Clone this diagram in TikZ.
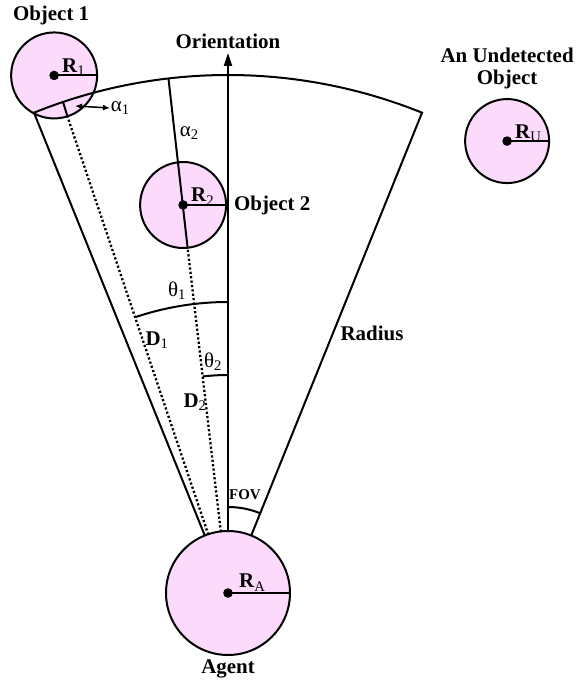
\documentclass[tikz,border=0pt]{standalone}
\usepackage{fontspec}
\setmainfont{Liberation Serif}
\usepackage{tikz}
\usetikzlibrary{calc, positioning, arrows.meta}
\definecolor{objpink}{RGB}{252,218,252}

\begin{document}
\begin{tikzpicture}[x=1bp, y=1bp, line width=2bp,
  obj/.style={circle, draw, fill=objpink, inner sep=0pt, outer sep=0pt},
  lbl/.style={font=\fontsize{21}{22}\selectfont, inner sep=0pt},
  dotline/.style={line width=2.3bp, dash pattern=on 2.2bp off 2.2bp}]
  \useasboundingbox (-228,-87) rectangle (349,593);

  \coordinate (agent) at (0,0);

  % Objects around the agent
  \foreach \nm/\ang/\dist/\sz/\sub in {obj1/108.57/546/86/1, obj2/96.6/390.6/86/2, objU/58.3/531.2/84/U}
    {
      \node[obj, minimum size=\sz bp] (\nm) at (\ang:\dist) {};
      \draw (\nm.center) -- (\nm.east);
      \fill (\nm.center) circle (4.8bp);
      \node[lbl, anchor=base west] (r\sub) at ([shift={(7,3)}]\nm.center) {\textbf{R}\textsubscript{\sub}};
    }
  \node[lbl, above=6bp of obj1, xshift=-3bp] (obj1lbl) {\textbf{Object 1}};
  \node[lbl, right=7bp of obj2] (obj2lbl) {\textbf{Object 2}};
  \node[lbl, above=9bp of objU, align=center] (objUlbl) {\textbf{An Undetected}\\\textbf{Object}};

  % Field of view sector
  \draw (agent) -- (112:518) arc[start angle=112, end angle=68, radius=518] -- cycle;
  \node[lbl] (radius) at (144,260) {\textbf{Radius}};

  % Orientation
  \coordinate (tip) at (90:540);
  \draw[-{Triangle[length=13bp, width=8bp]}] (agent) -- (tip);
  \node[lbl, above=3bp of tip] (orient) {\textbf{Orientation}};

  % Distances and depths into the sector
  \draw[dotline] (agent) -- (obj1.288.57);
  \draw (obj1.288.57) -- (108.57:518);
  \draw[dotline] (agent) -- (obj2.276.6);
  \draw (obj2.276.6) -- (96.6:518);
  \node[lbl] (d1) at (-71,253) {\textbf{D}\textsubscript{1}};
  \node[lbl] (d2) at (-33,191) {\textbf{D}\textsubscript{2}};

  % Angles
  \draw (108.57:291) arc[start angle=108.57, end angle=90, radius=291];
  \draw (96.6:218) arc[start angle=96.6, end angle=90, radius=218];
  \draw (90:86) arc[start angle=90, end angle=68, radius=86];
  \node[lbl] (th1) at (-51,302) {θ\textsubscript{1}};
  \node[lbl] (th2) at (-15,231) {θ\textsubscript{2}};
  \node[lbl, font=\fontsize{15}{16}\selectfont] (fov) at (17,98) {\textbf{FOV}};

  % Depth labels
  \coordinate (a1tail) at (-153,487);
  \node[lbl, anchor=west] (alpha1) at (-118,485) {α\textsubscript{1}};
  \draw[line width=1.5bp, {Latex[length=7bp, width=6bp]}-{Latex[length=7bp, width=6bp]}] (a1tail) -- (alpha1.west);
  \node[lbl, anchor=west] (alpha2) at (-49,460) {α\textsubscript{2}};

  % Agent
  \node[obj, minimum size=124bp] (agentc) at (agent) {};
  \draw (agentc.center) -- (agentc.east);
  \fill (agentc.center) circle (4.8bp);
  \node[lbl, anchor=base west] (ra) at ([shift={(10,5)}]agentc.center) {\textbf{R}\textsubscript{A}};
  \node[lbl, below=4bp of agentc] (agentlbl) {\textbf{Agent}};
\end{tikzpicture}
\end{document}
